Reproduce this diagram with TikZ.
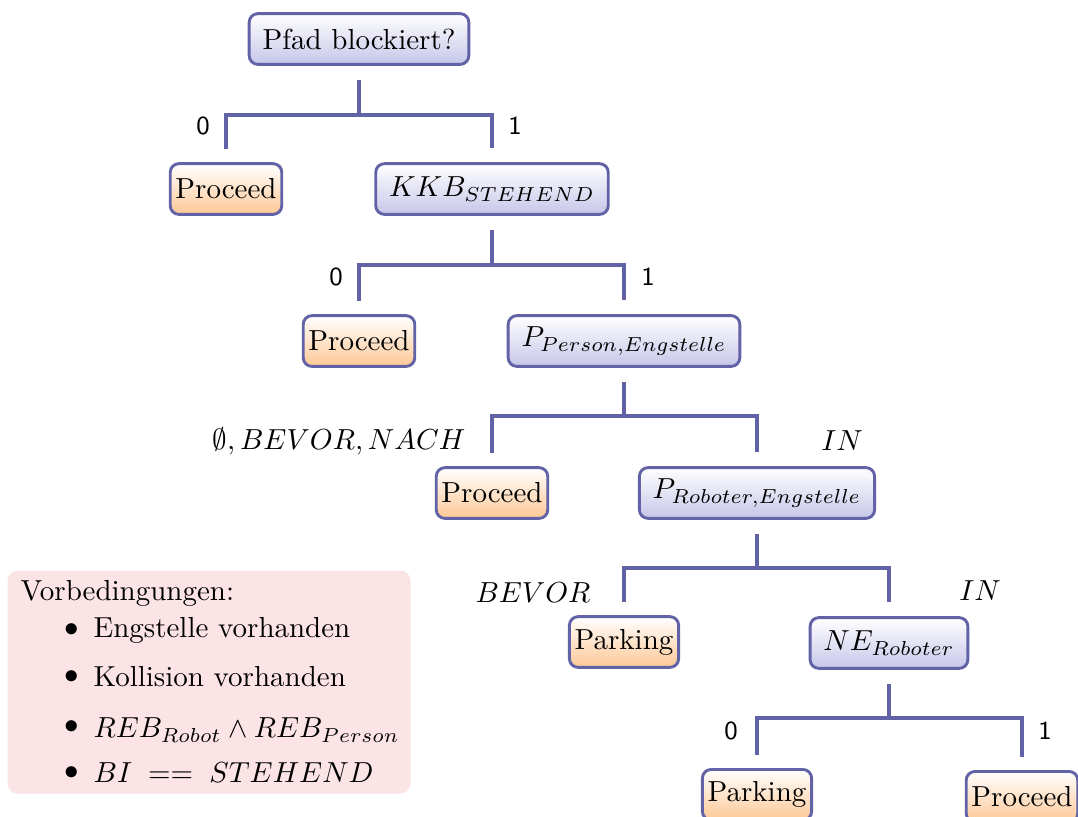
\documentclass[tikz,border=0pt]{standalone}
\usetikzlibrary{positioning}
\definecolor{edgec}{RGB}{98,98,166}
\definecolor{decfill}{RGB}{198,198,234}
\definecolor{leaffill}{RGB}{253,200,150}
\definecolor{notefill}{RGB}{252,228,230}
\begin{document}
\begin{tikzpicture}[x=0.345pt,y=-0.345pt,
  decision/.style={draw=edgec, line width=1pt, rounded corners=3pt,
    top color=white, bottom color=decfill, inner xsep=4.6pt, inner ysep=3pt,
    minimum height=17.5pt},
  leaf/.style={draw=edgec, line width=1pt, rounded corners=3pt,
    top color=white, bottom color=leaffill, inner xsep=1.8pt, inner ysep=3pt,
    minimum height=17.5pt},
  conn/.style={draw=edgec, line width=1.2pt},
  bitlab/.style={font=\small\sffamily, inner sep=0pt},
  mathlab/.style={inner sep=0pt}]
\useasboundingbox (0,0) rectangle (1078,816);

% precondition box
\node[fill=notefill, rounded corners=3.5pt, minimum width=403*0.345pt,
      minimum height=223*0.345pt, anchor=north west, inner sep=0pt] (pre) at (7,570) {};
\node[anchor=west, inner sep=0pt] (preh) at (20,593) {Vorbedingungen:};
\node[inner sep=0pt] (b1) at (72,630) {$\bullet$};
\node[inner sep=0pt] (b2) at (72,677) {$\bullet$};
\node[inner sep=0pt] (b3) at (72,727) {$\bullet$};
\node[inner sep=0pt] (b4) at (72,773) {$\bullet$};
\node[anchor=west, inner sep=0pt] (i1) at (93,630) {Engstelle vorhanden};
\node[anchor=west, inner sep=0pt] (i2) at (93,677) {Kollision vorhanden};
\node[anchor=west, inner sep=0pt] (i3) at (93,730) {$REB_{Robot} \land REB_{Person}$};
\node[anchor=west, inner sep=0pt] (i4) at (93,773) {$BI\;==\;STEHEND$};

% decision tree nodes
\node[decision] (root) at (359,39) {Pfad blockiert?};
\node[leaf] (pr1) at (226,189) {Proceed};
\node[decision] (kkb) at (492,189) {$KKB_{STEHEND}$};
\node[leaf] (pr2) at (359,341) {Proceed};
\node[decision] (pp) at (624,341) {$P_{Person,Engstelle}$};
\node[leaf] (pr3) at (492,493) {Proceed};
\node[decision] (prob) at (757,493) {$P_{Roboter,Engstelle}$};
\node[leaf] (pk1) at (624,642) {Parking};
\node[decision] (ne) at (889,643) {$NE_{Roboter}$};
\node[leaf, anchor=north] (pk2) at (757,768) {Parking};
\node[leaf, anchor=north] (pr4) at (1022,770) {Proceed};

% fork points
\coordinate (f1) at (359,115);
\coordinate (f2) at (492,265);
\coordinate (f3) at (624,416);
\coordinate (f4) at (757,568);
\coordinate (f5) at (889,718);

% connectors
\draw[conn] ([yshift=-5pt]root.south) -- (f1);
\draw[conn] ([yshift=4.5pt]pr1.north) |- (f1) -| ([yshift=5pt]kkb.north);
\draw[conn] ([yshift=-5pt]kkb.south) -- (f2);
\draw[conn] ([yshift=4.5pt]pr2.north) |- (f2) -| ([yshift=5pt]pp.north);
\draw[conn] ([yshift=-5pt]pp.south) -- (f3);
\draw[conn] ([yshift=4.5pt]pr3.north) |- (f3) -| ([yshift=5pt]prob.north);
\draw[conn] ([yshift=-5pt]prob.south) -- (f4);
\draw[conn] ([yshift=4.5pt]pk1.north) |- (f4) -| ([yshift=5pt]ne.north);
\draw[conn] ([yshift=-5pt]ne.south) -- (f5);
\draw[conn] ([yshift=4.5pt]pk2.north) |- (f5) -| ([yshift=4.5pt]pr4.north);

% branch labels
\node[bitlab] (l10) at (203,126) {0};
\node[bitlab] (l11) at (515,126) {1};
\node[bitlab] (l20) at (336,277) {0};
\node[bitlab] (l21) at (648,277) {1};
\node[mathlab, anchor=east] (l30) at (466,441) {$\emptyset,BEVOR,NACH$};
\node[mathlab] (l31) at (842,441) {$IN$};
\node[mathlab] (l40) at (533,593) {$BEVOR$};
\node[mathlab] (l41) at (980,591) {$IN$};
\node[bitlab] (l50) at (731,731) {0};
\node[bitlab] (l51) at (1045,731) {1};
\end{tikzpicture}
\end{document}
